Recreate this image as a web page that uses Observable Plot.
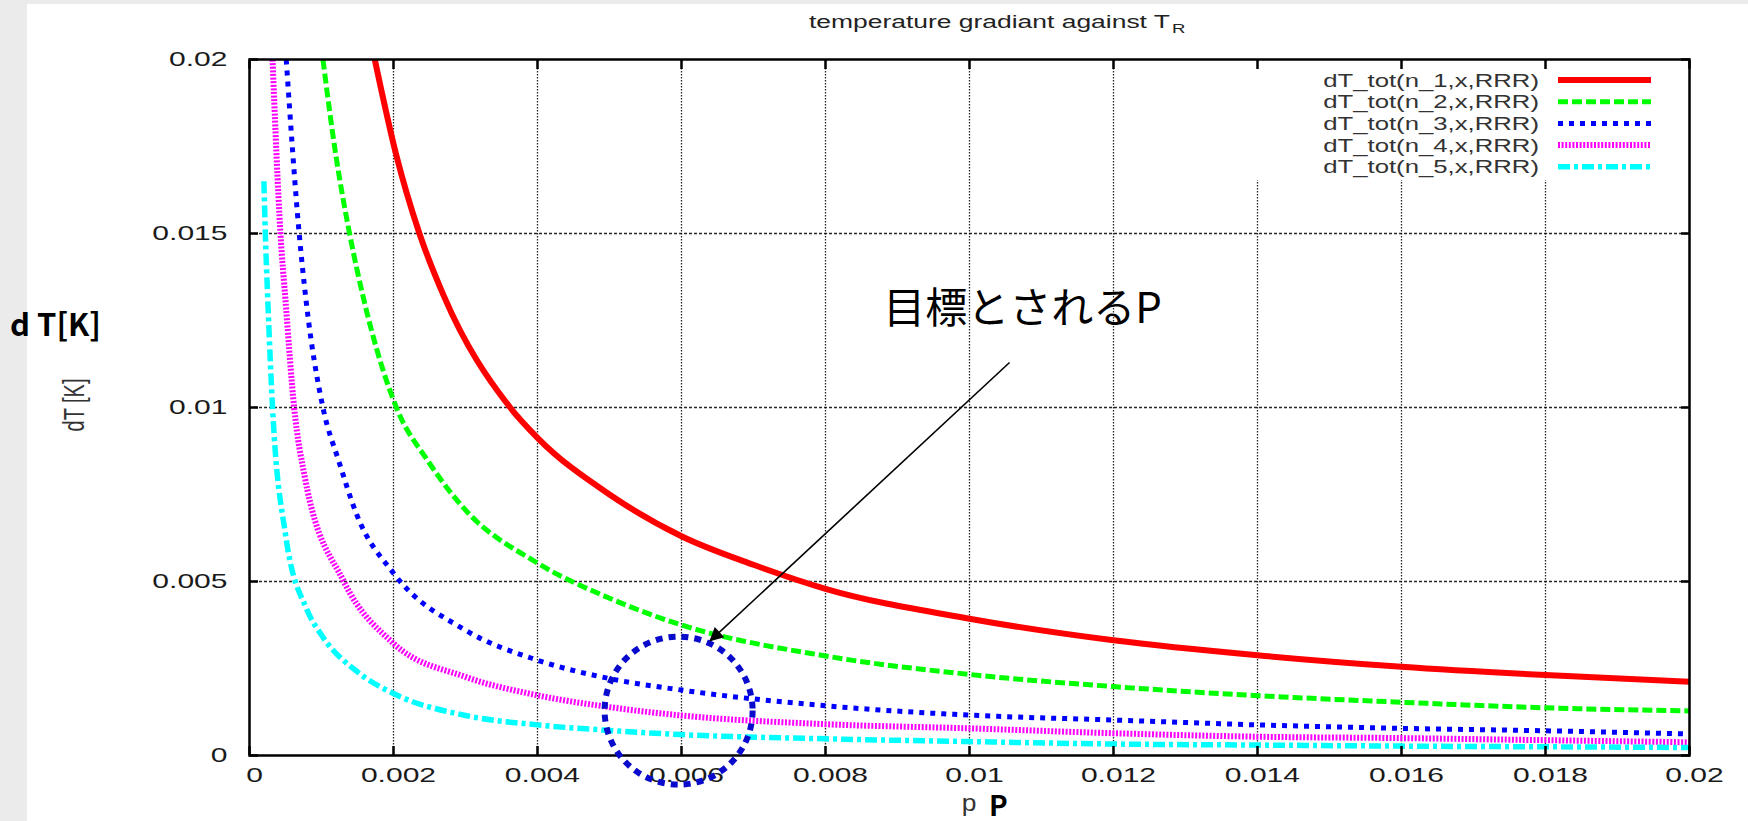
<!DOCTYPE html>
<html>
<head>
<meta charset="utf-8">
<script src="https://cdn.jsdelivr.net/npm/d3@7"></script>
<script src="https://cdn.jsdelivr.net/npm/@observablehq/plot@0.6"></script>
<style>
  html, body { margin: 0; padding: 0; background: #ebebeb; overflow: hidden; }
  #wrap { position: relative; width: 1748px; height: 821px; }
  #panel { position: absolute; left: 27px; top: 4px; width: 1721px; height: 817px; background: #ffffff; }
  #chart { position: absolute; left: 0; top: 0; }
</style>
</head>
<body>
<div id="wrap"><div id="panel"></div><div id="chart"></div></div>
<script>
// ---------------- data ----------------
const chartTitle = "temperature gradiant against T";
const chartTitleSub = "R";
const xAxisLabel = "p";
const yAxisLabel = "dT [K]";
const overlayYLabel = "d T[K]";
const overlayXLabel = "P";

const xTicks = [0, 0.002, 0.004, 0.006, 0.008, 0.01, 0.012, 0.014, 0.016, 0.018, 0.02];
const xTickLabels = ["0", "0.002", "0.004", "0.006", "0.008", "0.01", "0.012", "0.014", "0.016", "0.018", "0.02"];
const yTicks = [0, 0.005, 0.01, 0.015, 0.02];
const yTickLabels = ["0", "0.005", "0.01", "0.015", "0.02"];

const seriesNames = ["dT_tot(n_1,x,RRR)", "dT_tot(n_2,x,RRR)", "dT_tot(n_3,x,RRR)", "dT_tot(n_4,x,RRR)", "dT_tot(n_5,x,RRR)"];

const p_n1  = [0.00174, 0.00204, 0.00236, 0.0027, 0.00362, 0.004, 0.005, 0.006, 0.007, 0.008, 0.01, 0.012, 0.014, 0.016, 0.018, 0.02];
const dT_n1 = [0.0200, 0.01724, 0.0150, 0.0132, 0.0100, 0.00913, 0.0075, 0.0063, 0.00548, 0.00479, 0.00393, 0.00331, 0.00288, 0.00255, 0.00231, 0.00212];

const p_n2  = [0.00102, 0.0012, 0.00139, 0.00159, 0.00204, 0.00248, 0.00297, 0.004, 0.005, 0.006, 0.008, 0.01, 0.012, 0.014, 0.016, 0.018, 0.02];
const dT_n2 = [0.0200, 0.01724, 0.0150, 0.01308, 0.0100, 0.00846, 0.00712, 0.00553, 0.00452, 0.00375, 0.00286, 0.00233, 0.00198, 0.00172, 0.00153, 0.00137, 0.00128];

const p_n3  = [0.00051, 0.00069, 0.00079, 0.00102, 0.00124, 0.00149, 0.002, 0.003, 0.004, 0.005, 0.006, 0.008, 0.01, 0.012, 0.014, 0.016, 0.018, 0.02];
const dT_n3 = [0.0200, 0.0150, 0.0130, 0.0100, 0.00846, 0.00692, 0.00524, 0.0036, 0.00274, 0.00221, 0.00188, 0.00143, 0.00116, 0.00102, 0.00088, 0.00078, 0.00071, 0.00062];

const p_n4  = [0.00032, 0.00043, 0.0005, 0.00062, 0.00077, 0.00131, 0.002, 0.003, 0.004, 0.005, 0.006, 0.008, 0.01, 0.012, 0.014, 0.016, 0.018, 0.02];
const dT_n4 = [0.0200, 0.0150, 0.01308, 0.0100, 0.00798, 0.0050, 0.00322, 0.00226, 0.00173, 0.00139, 0.00115, 0.0009, 0.00078, 0.00064, 0.00054, 0.0005, 0.00044, 0.00038];

const p_n5  = [0.0002, 0.00022, 0.00025, 0.00032, 0.0005, 0.0008, 0.001, 0.0015, 0.002, 0.003, 0.004, 0.005, 0.006, 0.008, 0.01, 0.012, 0.014, 0.016, 0.018, 0.02];
const dT_n5 = [0.0165, 0.0150, 0.0133, 0.0100, 0.00635, 0.00418, 0.00346, 0.0024, 0.00178, 0.00115, 0.00088, 0.00072, 0.0006, 0.00048, 0.0004, 0.00033, 0.0003, 0.00027, 0.00025, 0.00023];

// annotation (in data units)
const annotationText = "目標とされるP";
const annotationTextAt = [0.010736, 0.012816];
const annotationArrowFrom = [0.010556, 0.011293];
const annotationArrowTo = [0.0064, 0.0033];
const targetCircleAt = [0.00596, 0.00129];

// ---------------- styles ----------------
const lineStyles = [
  {color: "#ff0000", width: 6, dash: undefined},
  {color: "#00ff00", width: 5, dash: "10,4"},
  {color: "#0000ff", width: 5, dash: "5,6"},
  {color: "#ff00ff", width: 6, dash: "2,1.6"},
  {color: "#00ffff", width: 5.5, dash: "12,4,4,4"}
];
const STRETCH = 1.43;
const gpFont = "'Liberation Sans', Arial, Helvetica, sans-serif";
const jpFont = "'Noto Sans CJK JP', 'Noto Sans', sans-serif";

// ---------------- build table ----------------
const seriesP = [p_n1, p_n2, p_n3, p_n4, p_n5];
const seriesDT = [dT_n1, dT_n2, dT_n3, dT_n4, dT_n5];
const rows = [];
seriesNames.forEach((name, i) => seriesP[i].forEach((p, j) => rows.push({series: name, p, dT: seriesDT[i][j]})));
const xLab = new Map(xTicks.map((t, i) => [t, xTickLabels[i]]));
const yLab = new Map(yTicks.map((t, i) => [t, yTickLabels[i]]));

const lineMarks = seriesNames.map((name, i) => Plot.line(rows.filter(r => r.series === name), {
  x: "p", y: "dT",
  stroke: lineStyles[i].color, strokeWidth: lineStyles[i].width,
  strokeDasharray: lineStyles[i].dash, strokeLinecap: "butt", strokeLinejoin: "round",
  curve: "monotone-x", clip: true
}));

const anno = [{
  tx: annotationTextAt[0], ty: annotationTextAt[1], text: annotationText,
  x1: annotationArrowFrom[0], y1: annotationArrowFrom[1], x2: annotationArrowTo[0], y2: annotationArrowTo[1],
  cx: targetCircleAt[0], cy: targetCircleAt[1]
}];

const chart = Plot.plot({
  width: 1748, height: 821,
  marginLeft: 249, marginRight: 59, marginTop: 59, marginBottom: 66,
  style: {background: "transparent", fontFamily: gpFont, overflow: "visible"},
  x: {domain: [0, 0.02], label: null},
  y: {domain: [0, 0.02], label: null},
  marks: [
    Plot.gridX(xTicks.slice(1, -1), {stroke: "#000", strokeOpacity: 0.85, strokeWidth: 1.3, strokeDasharray: "1.5,1.5"}),
    Plot.gridY(yTicks.slice(1, -1), {stroke: "#000", strokeOpacity: 0.85, strokeWidth: 1.3, strokeDasharray: "3,2"}),
    ...lineMarks,
    Plot.axisX(xTicks, {anchor: "bottom", fill: "none", tickSize: 9, dy: -9, strokeWidth: 2.5, label: null}),
    Plot.axisX(xTicks, {anchor: "top", fill: "none", tickSize: 9, dy: 9, strokeWidth: 2.5, label: null}),
    Plot.axisY(yTicks, {anchor: "left", fill: "none", tickSize: 9, dx: 9, strokeWidth: 2.5, label: null}),
    Plot.axisY(yTicks, {anchor: "right", fill: "none", tickSize: 9, dx: -9, strokeWidth: 2.5, label: null}),
    Plot.axisX(xTicks, {anchor: "bottom", tickSize: 0, tickPadding: 12, dx: 5, fontSize: 21, fill: "#1a1a1a", tickFormat: d => xLab.get(d), label: null}),
    Plot.axisY(yTicks, {anchor: "left", tickSize: 0, tickPadding: 22, fontSize: 21, fill: "#1a1a1a", tickFormat: d => yLab.get(d), label: null}),
    Plot.frame({stroke: "#000", strokeWidth: 2.5}),
    Plot.dot(anno, {x: "cx", y: "cy", r: 74, fill: "none", stroke: "#0a0acd", strokeWidth: 6, strokeDasharray: "7,6", clip: false}),
    Plot.link(anno, {x1: "x1", y1: "y1", x2: "x2", y2: "y2", stroke: "#000", strokeWidth: 1.6}),
    Plot.text(anno, {x: "tx", y: "ty", text: "text", fontSize: 42, fontFamily: jpFont, fill: "#000", textAnchor: "middle", lineAnchor: "middle", letterSpacing: 2})
  ]
});
document.getElementById("chart").appendChild(chart);

// ---------------- post-processing (gnuplot-like stretched text, legend, labels) ----------------
const svg = d3.select(chart);
const SVGNS = "http://www.w3.org/2000/svg";
// stretch a text horizontally about its anchor point, whatever way it is positioned
function stretchText(el, k) {
  const bb = el.getBBox();
  const anchor = getComputedStyle(el).textAnchor;
  const ax = anchor === "middle" ? bb.x + bb.width / 2 : anchor === "end" ? bb.x + bb.width : bb.x;
  const ay = bb.y + bb.height / 2;
  let px = ax, py = ay;
  const tl = el.transform && el.transform.baseVal;
  if (tl && tl.numberOfItems > 0) {
    const m = tl.consolidate().matrix;
    px = m.a * ax + m.c * ay + m.e;
    py = m.b * ax + m.d * ay + m.f;
  }
  const g = document.createElementNS(SVGNS, "g");
  el.parentNode.insertBefore(g, el);
  g.appendChild(el);
  g.setAttribute("transform", `translate(${px},${py}) scale(${k},1) translate(${-px},${-py})`);
}
svg.selectAll('g[aria-label="x-axis tick label"] text, g[aria-label="y-axis tick label"] text').each(function() { stretchText(this, STRETCH); });

// arrow head
const defs = svg.insert("defs", ":first-child");
defs.append("marker").attr("id", "annoHead").attr("viewBox", "0 0 10 10")
  .attr("refX", 9).attr("refY", 5).attr("markerWidth", 20).attr("markerHeight", 14)
  .attr("markerUnits", "userSpaceOnUse").attr("orient", "auto")
  .append("path").attr("d", "M0,0L10,5L0,10z").attr("fill", "#000");
svg.selectAll('g[aria-label="link"] path').attr("marker-end", "url(#annoHead)");

// legend (white box hides the grid behind it)
const yGrid = chart.querySelector('g[aria-label="y-grid"]');
const legend = d3.create("svg:g").attr("class", "legend");
legend.append("rect").attr("x", 1240).attr("y", 61).attr("width", 447).attr("height", 119).attr("fill", "#fff");
seriesNames.forEach((name, i) => {
  const cy = 80 + i * 21.7;
  legend.append("text").attr("transform", `translate(1539,${cy + 6.5}) scale(${STRETCH},1)`)
    .attr("text-anchor", "end").attr("font-size", 18).attr("font-family", gpFont).attr("fill", "#333").text(name);
  legend.append("line").attr("x1", 1558).attr("x2", 1651).attr("y1", cy).attr("y2", cy)
    .attr("stroke", lineStyles[i].color).attr("stroke-width", lineStyles[i].width)
    .attr("stroke-dasharray", lineStyles[i].dash || null).attr("stroke-linecap", "butt");
});
chart.insertBefore(legend.node(), yGrid.nextSibling);

// title
svg.append("text").attr("transform", `translate(1170,28) scale(${STRETCH},1)`).attr("text-anchor", "end")
  .attr("font-size", 18.5).attr("font-family", gpFont).attr("fill", "#222").text(chartTitle);
svg.append("text").attr("transform", `translate(1172,33) scale(${STRETCH},1)`).attr("text-anchor", "start")
  .attr("font-size", 13).attr("font-family", gpFont).attr("fill", "#222").text(chartTitleSub);

// gnuplot axis labels
svg.append("text").attr("transform", `translate(74,405) scale(${STRETCH},1) rotate(-90)`).attr("text-anchor", "middle")
  .attr("dy", "0.35em").attr("font-size", 20).attr("font-family", gpFont).attr("fill", "#333").text(yAxisLabel);
svg.append("text").attr("transform", `translate(969,811) scale(1.1,1)`).attr("text-anchor", "middle")
  .attr("font-size", 24).attr("font-family", gpFont).attr("fill", "#333").text(xAxisLabel);

// bold overlay labels
svg.append("text").attr("x", 10).attr("y", 336).attr("text-anchor", "start").attr("font-size", 31).attr("font-weight", 700)
  .attr("font-family", jpFont).attr("fill", "#000").text(overlayYLabel);
svg.append("text").attr("x", 989).attr("y", 816).attr("text-anchor", "start").attr("font-size", 28).attr("font-weight", 700)
  .attr("font-family", jpFont).attr("fill", "#000").text(overlayXLabel);
</script>
</body>
</html>
